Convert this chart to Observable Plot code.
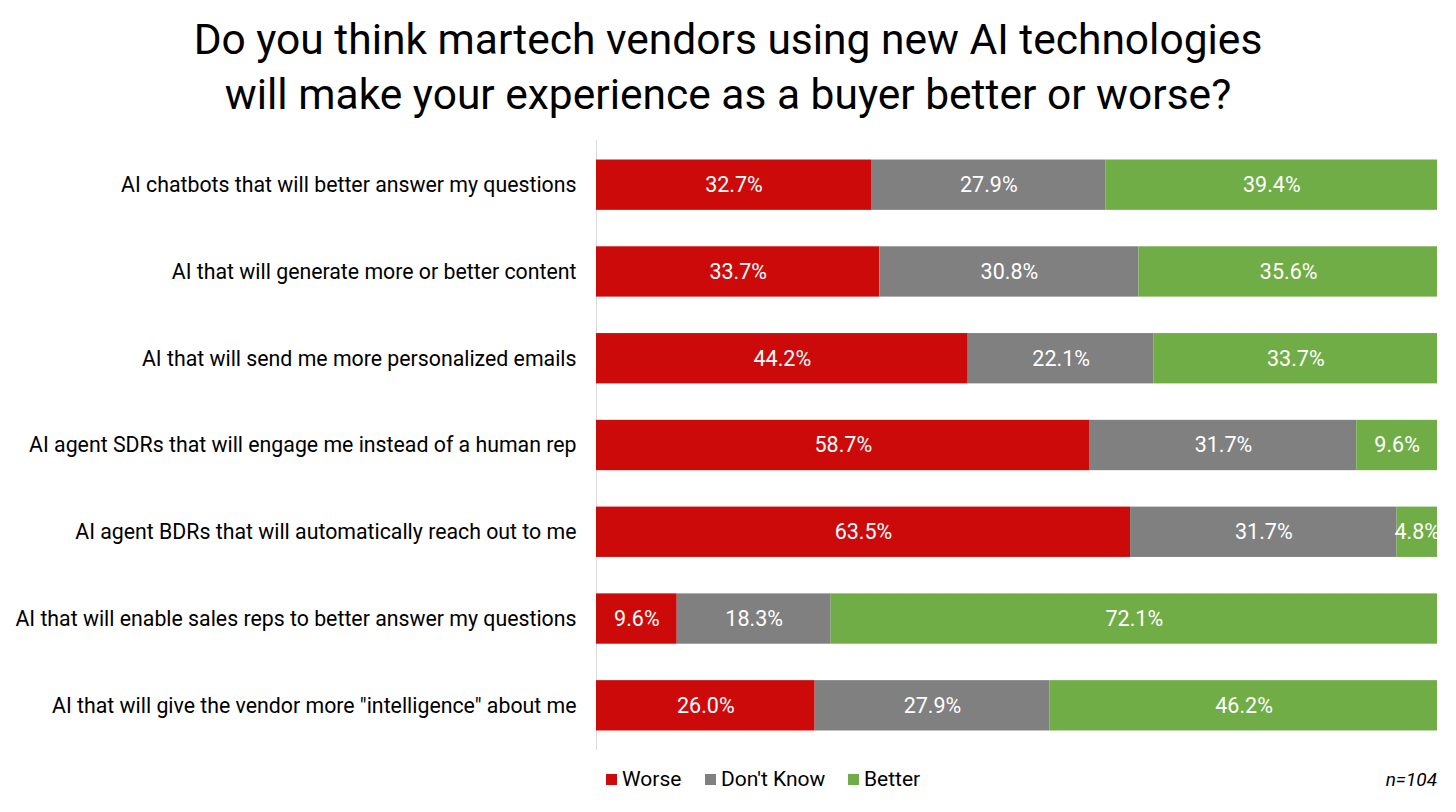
<!DOCTYPE html>
<html>
<head>
<meta charset="utf-8">
<script src="https://cdn.jsdelivr.net/npm/d3@7"></script>
<script src="https://cdn.jsdelivr.net/npm/@observablehq/plot@0.6"></script>
<style>
  html, body { margin: 0; padding: 0; background: #fff; }
  body { width: 1456px; height: 812px; overflow: hidden; font-family: Roboto, "Noto Sans", sans-serif; color: #000; }
  #title { text-align: center; font-size: 42.5px; line-height: 55px; padding-top: 12px; height: 130px; box-sizing: border-box; font-weight: 400; }
  #chart { height: 630px; }
  #footer { position: relative; height: 40px; font-size: 21px; }
  .leg { position: absolute; top: 7px; display: flex; align-items: center; }
  .sw { width: 11px; height: 11px; margin-right: 5px; display: inline-block; }
  #n { position: absolute; right: 19px; top: 8px; font-style: italic; font-size: 19px; }
</style>
</head>
<body>
<div id="title">Do you think martech vendors using new AI technologies<br>will make your experience as a buyer better or worse?</div>
<div id="chart"></div>
<div id="footer"></div>
<script>
const categories = [
  "AI chatbots that will better answer my questions",
  "AI that will generate more or better content",
  "AI that will send me more personalized emails",
  "AI agent SDRs that will engage me instead of a human rep",
  "AI agent BDRs that will automatically reach out to me",
  "AI that will enable sales reps to better answer my questions",
  "AI that will give the vendor more \"intelligence\" about me"
];
const seriesNames = ["Worse", "Don't Know", "Better"];
const seriesColors = ["#CC0A0A", "#808080", "#70AD47"];
const worse    = [32.7, 33.7, 44.2, 58.7, 63.5, 9.6, 26.0];
const dontKnow = [27.9, 30.8, 22.1, 31.7, 31.7, 18.3, 27.9];
const better   = [39.4, 35.6, 33.7, 9.6, 4.8, 72.1, 46.2];
const sampleNote = "n=104";

const values = [worse, dontKnow, better];
const data = [];
categories.forEach((c, i) => {
  seriesNames.forEach((s, j) => data.push({category: c, series: s, value: values[j][i]}));
});

const plot = Plot.plot({
  width: 1456,
  height: 630,
  marginLeft: 596,
  marginRight: 19,
  marginTop: 10,
  marginBottom: 10,
  style: {fontFamily: "Roboto, 'Noto Sans', sans-serif", fontSize: "21px", background: "#fff"},
  x: {domain: [0, 100], axis: null},
  y: {domain: categories, paddingInner: 0.42, paddingOuter: 0.225, round: false, label: null, tickSize: 0, tickPadding: 20},
  color: {domain: seriesNames, range: seriesColors},
  marks: [
    Plot.ruleX([0], {stroke: "#d9d9d9", strokeWidth: 1}),
    Plot.barX(data, Plot.stackX({x: "value", y: "category", z: "series", fill: "series", order: null, clip: "frame"})),
    Plot.text(data, Plot.stackX({x: "value", y: "category", z: "series", order: null,
      text: d => d.value.toFixed(1) + "%", fill: "white", fontSize: 21.5, clip: "frame"})),
    Plot.axisY({tickSize: 0, tickPadding: 20, fontSize: 21.3, fill: "#000", label: null})
  ]
});
document.getElementById("chart").appendChild(plot);

const footer = document.getElementById("footer");
const legX = [606, 705, 848];
seriesNames.forEach((s, i) => {
  const d = document.createElement("div");
  d.className = "leg";
  d.style.left = legX[i] + "px";
  d.innerHTML = `<span class="sw" style="background:${seriesColors[i]}"></span><span>${s}</span>`;
  footer.appendChild(d);
});
const n = document.createElement("div");
n.id = "n";
n.textContent = sampleNote;
footer.appendChild(n);
</script>
</body>
</html>
